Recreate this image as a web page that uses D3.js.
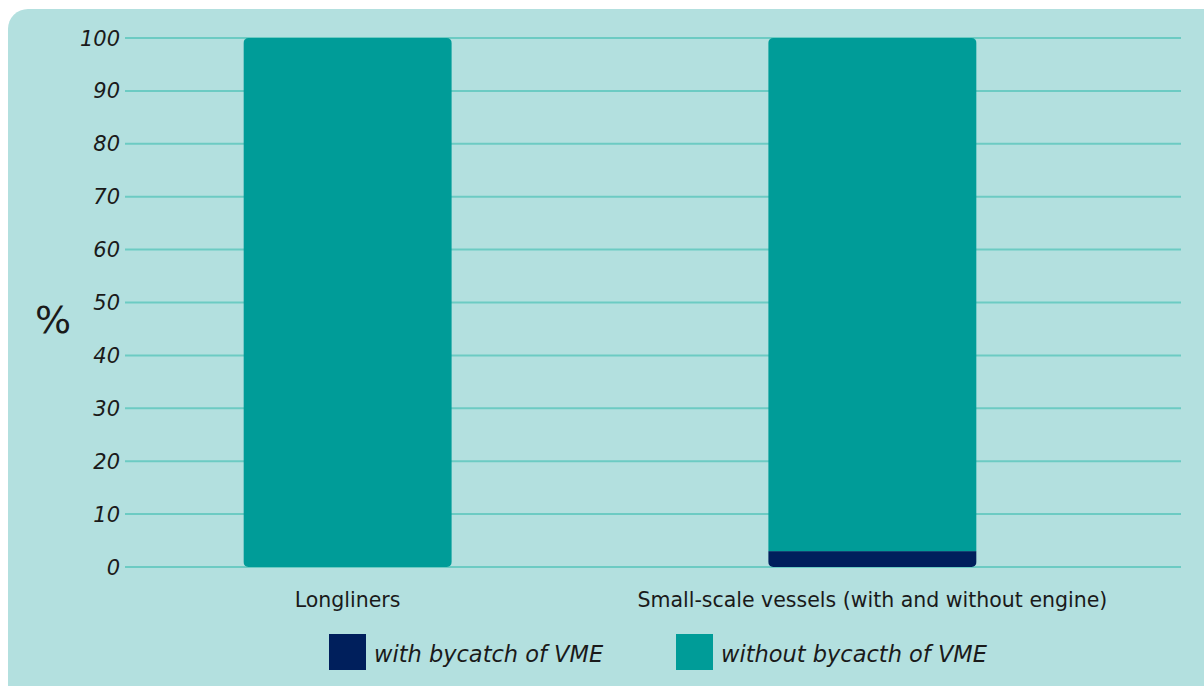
<!DOCTYPE html>
<html>
<head>
<meta charset="utf-8">
<script src="https://cdn.jsdelivr.net/npm/d3@7"></script>
<style>
  body { margin: 0; background: #fff; }
  svg { display: block; }
  text { font-family: "DejaVu Sans", sans-serif; fill: #1a1a1a; }
</style>
</head>
<body>
<div id="chart"></div>
<script>
const categories = ['Longliners', 'Small-scale vessels (with and without engine)'];
const withBycatch = [0, 3];
const withoutBycatch = [100, 97];
const seriesNames = ['with bycatch of VME', 'without bycacth of VME'];
const yTicks = [0, 10, 20, 30, 40, 50, 60, 70, 80, 90, 100];

const W = 1204, H = 686;
const colors = ['#001f5c', '#009c98'];

const svg = d3.select('#chart').append('svg')
  .attr('width', W).attr('height', H);

// background panel
svg.append('rect')
  .attr('x', 8).attr('y', 9)
  .attr('width', 1220).attr('height', 700)
  .attr('rx', 20)
  .attr('fill', '#b3e0df');

const x = d3.scaleBand()
  .domain(categories)
  .range([86, 1134])
  .paddingInner(0.603)
  .paddingOuter(0.3);

const y = d3.scaleLinear().domain([0, 100]).range([567, 38]);

// grid
svg.append('g').selectAll('line')
  .data(yTicks).enter().append('line')
  .attr('x1', 125).attr('x2', 1181)
  .attr('y1', d => y(d)).attr('y2', d => y(d))
  .attr('stroke', '#6ccbc3').attr('stroke-width', 2);

// y labels
svg.append('g').selectAll('text')
  .data(yTicks).enter().append('text')
  .attr('x', 120).attr('y', d => y(d))
  .attr('dy', '0.36em')
  .attr('text-anchor', 'end')
  .style('font-style', 'italic')
  .style('font-size', '21px')
  .text(d => d);

svg.append('text')
  .attr('x', 53).attr('y', 333)
  .attr('text-anchor', 'middle')
  .style('font-size', '38px')
  .text('%');

const stackData = categories.map((c, i) => ({ cat: c, a: withBycatch[i], b: withoutBycatch[i] }));
const stack = d3.stack().keys(['a', 'b'])(stackData);

// clip per bar for rounded corners
const defs = svg.append('defs');
categories.forEach((c, i) => {
  defs.append('clipPath').attr('id', 'clip' + i)
    .append('rect')
    .attr('x', x(c)).attr('y', y(100))
    .attr('width', x.bandwidth()).attr('height', y(0) - y(100))
    .attr('rx', 5);
});

stack.forEach((layer, li) => {
  svg.append('g').selectAll('rect')
    .data(layer).enter().append('rect')
    .attr('clip-path', (d, i) => 'url(#clip' + i + ')')
    .attr('x', d => x(d.data.cat))
    .attr('width', x.bandwidth())
    .attr('y', d => y(d[1]))
    .attr('height', d => y(d[0]) - y(d[1]))
    .attr('fill', colors[li]);
});

// category labels
svg.append('g').selectAll('text')
  .data(categories).enter().append('text')
  .attr('x', d => x(d) + x.bandwidth() / 2)
  .attr('y', 607)
  .attr('text-anchor', 'middle')
  .style('font-size', '20.5px')
  .text(d => d);

// legend
const legendX = [329, 676];
seriesNames.forEach((s, i) => {
  svg.append('rect')
    .attr('x', legendX[i]).attr('y', 634)
    .attr('width', 37).attr('height', 36)
    .attr('fill', colors[i]);
  svg.append('text')
    .attr('x', legendX[i] + 45).attr('y', 662)
    .style('font-style', 'italic')
    .style('font-size', '22.5px')
    .text(s);
});
</script>
</body>
</html>
